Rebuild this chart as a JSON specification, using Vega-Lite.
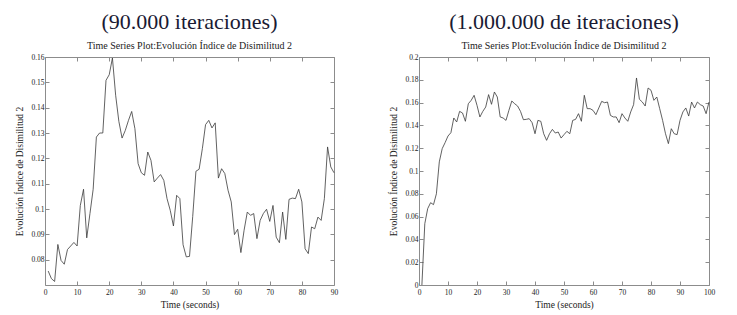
{
  "$schema": "https://vega.github.io/schema/vega-lite/v6.json",
  "padding": {"left": 14, "top": 10, "right": 5, "bottom": 2},
  "background": "white",
  "config": {
    "font": "'Liberation Serif', 'Times New Roman', serif",
    "view": {"stroke": "#8c8c8c", "strokeWidth": 1},
    "axis": {"grid": false, "domain": false, "labelFlush": false, "tickColor": "#8c8c8c", "tickSize": -4, "labelFont": "'Liberation Serif', 'Times New Roman', serif", "labelFontSize": 7.5, "labelColor": "#222", "titleFont": "'Liberation Serif', 'Times New Roman', serif", "titleFontSize": 9.5, "titleFontWeight": "normal", "titleColor": "#222", "labelPadding": 5, "titlePadding": 6},
    "axisX": {"labelPadding": 7, "titlePadding": 4},
    "title": {"font": "'Liberation Serif', 'Times New Roman', serif", "fontSize": 22, "fontWeight": "normal", "color": "#1a1a33", "subtitleFont": "'Liberation Serif', 'Times New Roman', serif", "subtitleFontSize": 10, "subtitleColor": "#222", "offset": 1, "subtitlePadding": 7, "anchor": "middle"}
  },
  "datasets": {
    "a": [{"t":1,"v":0.0755},{"t":2,"v":0.0725},{"t":3,"v":0.0714},{"t":4,"v":0.086},{"t":5,"v":0.0797},{"t":6,"v":0.0782},{"t":7,"v":0.084},{"t":8,"v":0.0854},{"t":9,"v":0.0868},{"t":10,"v":0.0854},{"t":11,"v":0.1014},{"t":12,"v":0.1078},{"t":13,"v":0.0886},{"t":14,"v":0.0982},{"t":15,"v":0.1078},{"t":16,"v":0.1284},{"t":17,"v":0.130},{"t":18,"v":0.130},{"t":19,"v":0.1508},{"t":20,"v":0.153},{"t":21,"v":0.1596},{"t":22,"v":0.1449},{"t":23,"v":0.1346},{"t":24,"v":0.128},{"t":25,"v":0.131},{"t":26,"v":0.135},{"t":27,"v":0.1385},{"t":28,"v":0.1317},{"t":29,"v":0.1179},{"t":30,"v":0.1143},{"t":31,"v":0.1133},{"t":32,"v":0.1225},{"t":33,"v":0.1192},{"t":34,"v":0.1107},{"t":35,"v":0.1122},{"t":36,"v":0.1136},{"t":37,"v":0.1113},{"t":38,"v":0.1041},{"t":39,"v":0.0995},{"t":40,"v":0.0933},{"t":41,"v":0.1054},{"t":42,"v":0.1041},{"t":43,"v":0.0859},{"t":44,"v":0.0811},{"t":45,"v":0.0813},{"t":46,"v":0.097},{"t":47,"v":0.1149},{"t":48,"v":0.1157},{"t":49,"v":0.1238},{"t":50,"v":0.1333},{"t":51,"v":0.135},{"t":52,"v":0.132},{"t":53,"v":0.134},{"t":54,"v":0.1122},{"t":55,"v":0.1159},{"t":56,"v":0.114},{"t":57,"v":0.1074},{"t":58,"v":0.1028},{"t":59,"v":0.0899},{"t":60,"v":0.092},{"t":61,"v":0.0828},{"t":62,"v":0.0916},{"t":63,"v":0.0988},{"t":64,"v":0.0975},{"t":65,"v":0.0982},{"t":66,"v":0.0883},{"t":67,"v":0.0955},{"t":68,"v":0.0982},{"t":69,"v":0.0999},{"t":70,"v":0.0951},{"t":71,"v":0.1014},{"t":72,"v":0.0889},{"t":73,"v":0.0867},{"t":74,"v":0.0988},{"t":75,"v":0.088},{"t":76,"v":0.1038},{"t":77,"v":0.1043},{"t":78,"v":0.1041},{"t":79,"v":0.1078},{"t":80,"v":0.1028},{"t":81,"v":0.0843},{"t":82,"v":0.0824},{"t":83,"v":0.0929},{"t":84,"v":0.0922},{"t":85,"v":0.0968},{"t":86,"v":0.0955},{"t":87,"v":0.1041},{"t":88,"v":0.1245},{"t":89,"v":0.1166},{"t":90,"v":0.1143}],
    "b": [{"t":1,"v":0},{"t":2,"v":0.0538},{"t":3,"v":0.067},{"t":4,"v":0.0722},{"t":5,"v":0.0705},{"t":6,"v":0.080},{"t":7,"v":0.108},{"t":8,"v":0.1196},{"t":9,"v":0.1249},{"t":10,"v":0.1307},{"t":11,"v":0.1336},{"t":12,"v":0.1465},{"t":13,"v":0.143},{"t":14,"v":0.1523},{"t":15,"v":0.1509},{"t":16,"v":0.1436},{"t":17,"v":0.159},{"t":18,"v":0.162},{"t":19,"v":0.1664},{"t":20,"v":0.1576},{"t":21,"v":0.1474},{"t":22,"v":0.1523},{"t":23,"v":0.1561},{"t":24,"v":0.167},{"t":25,"v":0.1585},{"t":26,"v":0.1693},{"t":27,"v":0.1649},{"t":28,"v":0.1474},{"t":29,"v":0.1465},{"t":30,"v":0.1444},{"t":31,"v":0.1532},{"t":32,"v":0.1614},{"t":33,"v":0.159},{"t":34,"v":0.157},{"t":35,"v":0.1523},{"t":36,"v":0.145},{"t":37,"v":0.1453},{"t":38,"v":0.1459},{"t":39,"v":0.1424},{"t":40,"v":0.1327},{"t":41,"v":0.1444},{"t":42,"v":0.1436},{"t":43,"v":0.1327},{"t":44,"v":0.1269},{"t":45,"v":0.1327},{"t":46,"v":0.1365},{"t":47,"v":0.1333},{"t":48,"v":0.1342},{"t":49,"v":0.1289},{"t":50,"v":0.1319},{"t":51,"v":0.1348},{"t":52,"v":0.1327},{"t":53,"v":0.1444},{"t":54,"v":0.1453},{"t":55,"v":0.1503},{"t":56,"v":0.1436},{"t":57,"v":0.1664},{"t":58,"v":0.1547},{"t":59,"v":0.1547},{"t":60,"v":0.1532},{"t":61,"v":0.1494},{"t":62,"v":0.1553},{"t":63,"v":0.1611},{"t":64,"v":0.1599},{"t":65,"v":0.1605},{"t":66,"v":0.1488},{"t":67,"v":0.1474},{"t":68,"v":0.1474},{"t":69,"v":0.1424},{"t":70,"v":0.1503},{"t":71,"v":0.1465},{"t":72,"v":0.1436},{"t":73,"v":0.1518},{"t":74,"v":0.1582},{"t":75,"v":0.1816},{"t":76,"v":0.1629},{"t":77,"v":0.1605},{"t":78,"v":0.157},{"t":79,"v":0.1728},{"t":80,"v":0.1708},{"t":81,"v":0.162},{"t":82,"v":0.1649},{"t":83,"v":0.1547},{"t":84,"v":0.1444},{"t":85,"v":0.1327},{"t":86,"v":0.124},{"t":87,"v":0.1371},{"t":88,"v":0.1327},{"t":89,"v":0.1319},{"t":90,"v":0.1444},{"t":91,"v":0.1518},{"t":92,"v":0.1553},{"t":93,"v":0.1482},{"t":94,"v":0.1605},{"t":95,"v":0.1553},{"t":96,"v":0.1605},{"t":97,"v":0.1582},{"t":98,"v":0.157},{"t":99,"v":0.1503},{"t":100,"v":0.1605}]
  },
  "spacing": 49,
  "hconcat": [
    {
      "title": {"text": "(90.000 iteraciones)", "subtitle": "Time Series Plot:Evolución Índice de Disimilitud 2"},
      "width": 289, "height": 228,
      "data": {"name": "a"},
      "layer": [
        {"mark": {"type": "line", "color": "#3a3a3a", "strokeWidth": 0.8},
         "encoding": {
           "x": {"field": "t", "type": "quantitative", "scale": {"domain": [0, 90], "nice": false}, "axis": {"orient": "bottom", "values": [0,10,20,30,40,50,60,70,80,90], "title": "Time (seconds)"}},
           "y": {"field": "v", "type": "quantitative", "scale": {"domain": [0.07, 0.16], "nice": false, "zero": false}, "axis": {"orient": "left", "values": [0.08,0.09,0.1,0.11,0.12,0.13,0.14,0.15,0.16], "format": ".2~f", "title": "Evolución Índice de Disimilitud 2"}}
         }},
        {"mark": {"type": "line", "opacity": 0},
         "encoding": {
           "x": {"field": "t", "type": "quantitative", "axis": {"orient": "top", "values": [0,10,20,30,40,50,60,70,80,90], "labels": false, "title": null}},
           "y": {"field": "v", "type": "quantitative", "axis": {"orient": "right", "values": [0.08,0.09,0.1,0.11,0.12,0.13,0.14,0.15,0.16], "labels": false, "title": null}}
         }}
      ],
      "resolve": {"axis": {"x": "independent", "y": "independent"}}
    },
    {
      "title": {"text": "(1.000.000 de iteraciones)", "subtitle": "Time Series Plot:Evolución Índice de Disimilitud 2"},
      "width": 290, "height": 228,
      "data": {"name": "b"},
      "layer": [
        {"mark": {"type": "line", "color": "#3a3a3a", "strokeWidth": 0.8},
         "encoding": {
           "x": {"field": "t", "type": "quantitative", "scale": {"domain": [0, 100], "nice": false}, "axis": {"orient": "bottom", "values": [0,10,20,30,40,50,60,70,80,90,100], "title": "Time (seconds)"}},
           "y": {"field": "v", "type": "quantitative", "scale": {"domain": [0, 0.2], "nice": false}, "axis": {"orient": "left", "values": [0,0.02,0.04,0.06,0.08,0.1,0.12,0.14,0.16,0.18,0.2], "format": ".2~f", "title": "Evolución Índice de Disimilitud 2"}}
         }},
        {"mark": {"type": "line", "opacity": 0},
         "encoding": {
           "x": {"field": "t", "type": "quantitative", "axis": {"orient": "top", "values": [0,10,20,30,40,50,60,70,80,90,100], "labels": false, "title": null}},
           "y": {"field": "v", "type": "quantitative", "axis": {"orient": "right", "values": [0,0.02,0.04,0.06,0.08,0.1,0.12,0.14,0.16,0.18,0.2], "labels": false, "title": null}}
         }}
      ],
      "resolve": {"axis": {"x": "independent", "y": "independent"}}
    }
  ]
}
